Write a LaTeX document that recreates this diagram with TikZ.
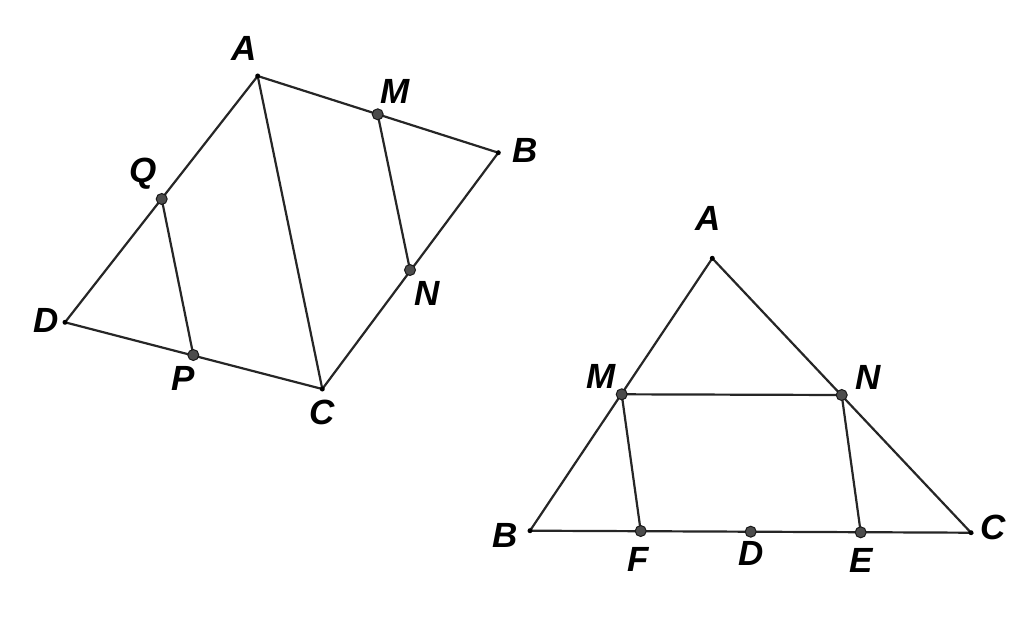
\documentclass[tikz,border=0pt]{standalone}
\usepackage{fontspec}
\setmainfont{Liberation Sans}
\usetikzlibrary{calc}

\begin{document}
\begin{tikzpicture}[x=1pt,y=-1pt,
	lbl/.style={font=\fontsize{35}{35}\selectfont\bfseries\itshape,inner sep=0pt},
	side/.style={line width=2.2pt,draw=black!85,line cap=round},
	vtx/.style={circle,fill=black,inner sep=0pt,minimum size=5pt},
	mid/.style={circle,draw=black!90,fill=black!70,line width=1pt,inner sep=0pt,minimum size=11pt}]
	\useasboundingbox (0,0) rectangle (1024,623);
	% left figure
	\coordinate (A1) at (257.7,76);
	\coordinate (B1) at (498.3,152.7);
	\coordinate (C1) at (322.3,389);
	\coordinate (D1) at (65,322.3);
	\coordinate (M1) at (377.7,114.3);
	\coordinate (N1) at (410,270);
	\coordinate (Q1) at (161.7,199);
	\coordinate (P1) at (193.3,355);
	\draw[side] (A1) -- (B1) -- (C1) -- (D1) -- cycle;
	\draw[side] (A1) -- (C1);
	\draw[side] (M1) -- (N1);
	\draw[side] (Q1) -- (P1);
	\foreach \p in {A1,B1,C1,D1} \node (v\p) [vtx] at (\p) {};
	\foreach \p in {M1,N1,Q1,P1} \node (v\p) [mid] at (\p) {};
	\node (lA1) [lbl] at (244,48.5) {A};
	\node (lM1) [lbl] at (395,91.5) {M};
	\node (lB1) [lbl] at (525,150) {B};
	\node (lQ1) [lbl] at (143.3,174) {Q};
	\node (lN1) [lbl] at (426.7,293.3) {N};
	\node (lD1) [lbl] at (46,320) {D};
	\node (lP1) [lbl] at (182.7,378.3) {P};
	\node (lC1) [lbl] at (321.7,412) {C};
	% right figure
	\coordinate (A2) at (712.3,258.3);
	\coordinate (B2) at (530,530.7);
	\coordinate (C2) at (971,532.7);
	\coordinate (M2) at (621.7,394.3);
	\coordinate (N2) at (841.7,395);
	\coordinate (F2) at (640.7,531);
	\coordinate (D2) at (750.7,531.7);
	\coordinate (E2) at (860.7,532.3);
	\draw[side] (A2) -- (B2) -- (C2) -- cycle;
	\draw[side] (M2) -- (N2);
	\draw[side] (M2) -- (F2);
	\draw[side] (N2) -- (E2);
	\foreach \p in {A2,B2,C2} \node (v\p) [vtx] at (\p) {};
	\foreach \p in {M2,N2,F2,D2,E2} \node (v\p) [mid] at (\p) {};
	\node (lA2) [lbl] at (708.3,218.5) {A};
	\node (lM2) [lbl] at (600.7,376.5) {M};
	\node (lN2) [lbl] at (868.3,377.5) {N};
	\node (lB2) [lbl] at (505,535.7) {B};
	\node (lF2) [lbl] at (638.3,559.3) {F};
	\node (lD2) [lbl] at (750.7,553.5) {D};
	\node (lE2) [lbl] at (861,560) {E};
	\node (lC2) [lbl] at (993.3,527.5) {C};
\end{tikzpicture}
\end{document}
